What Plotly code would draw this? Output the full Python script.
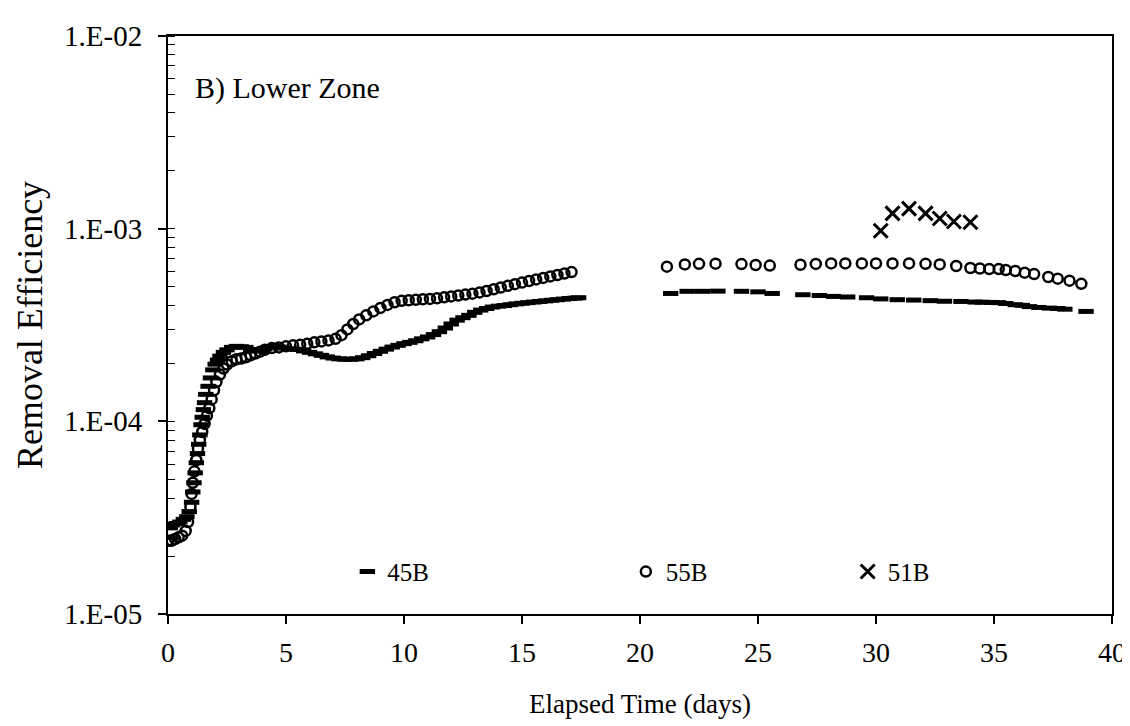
import plotly.graph_objects as go

# ---------------- data ----------------
t_45B = [0.0, 0.1, 0.2, 0.35, 0.5, 0.65, 0.8, 0.9, 1.0, 1.05, 1.1, 1.15, 1.2, 1.25, 1.3,
         1.35, 1.4, 1.45, 1.5, 1.55, 1.6, 1.7, 1.8, 1.9, 2.0, 2.1, 2.2, 2.35, 2.5, 2.7,
         2.9, 3.1, 3.3, 3.5, 3.7, 3.9, 4.1, 4.3, 4.5, 4.7, 4.9, 5.1, 5.3, 5.5, 5.75,
         6.0, 6.25, 6.5, 6.75, 7.0, 7.25, 7.5, 7.75, 8.0, 8.25, 8.5, 8.75, 9.0, 9.25,
         9.5, 9.75, 10.0, 10.25, 10.5, 10.75, 11.0, 11.25, 11.5, 11.75, 12.0, 12.25,
         12.5, 12.75, 13.0, 13.25, 13.5, 13.75, 14.0, 14.25, 14.5, 14.75, 15.0, 15.25,
         15.5, 15.75, 16.0, 16.25, 16.5, 16.75, 17.0, 17.25, 17.4,
         21.3, 22.0, 22.65, 23.3, 24.3, 25.0, 25.6, 26.9, 27.6, 28.2, 28.8, 29.6, 30.2,
         30.9, 31.6, 32.3, 32.9, 33.6, 34.2, 34.5, 34.9, 35.2, 35.5, 35.9, 36.2, 36.5,
         36.9, 37.35, 37.7, 38.0, 38.9]
v_45B = [2.5e-5, 2.8e-5, 2.9e-5, 2.95e-5, 3.0e-5, 3.1e-5, 3.2e-5, 3.4e-5, 3.8e-5, 4.3e-5,
         4.8e-5, 5.4e-5, 6.1e-5, 6.8e-5, 7.6e-5, 8.5e-5, 9.6e-5, 1.05e-4, 1.15e-4, 1.25e-4,
         1.38e-4, 1.52e-4, 1.68e-4, 1.85e-4, 1.98e-4, 2.08e-4, 2.18e-4, 2.28e-4, 2.35e-4,
         2.42e-4, 2.45e-4, 2.44e-4, 2.42e-4, 2.36e-4, 2.32e-4, 2.32e-4, 2.38e-4, 2.44e-4,
         2.45e-4, 2.43e-4, 2.40e-4, 2.38e-4, 2.37e-4, 2.36e-4, 2.32e-4, 2.28e-4, 2.24e-4,
         2.20e-4, 2.16e-4, 2.13e-4, 2.11e-4, 2.10e-4, 2.10e-4, 2.11e-4, 2.14e-4, 2.19e-4,
         2.25e-4, 2.31e-4, 2.37e-4, 2.43e-4, 2.48e-4, 2.53e-4, 2.57e-4, 2.62e-4, 2.68e-4,
         2.74e-4, 2.82e-4, 2.92e-4, 3.05e-4, 3.20e-4, 3.35e-4, 3.45e-4, 3.55e-4, 3.68e-4,
         3.78e-4, 3.85e-4, 3.92e-4, 3.96e-4, 3.99e-4, 4.03e-4, 4.07e-4, 4.10e-4, 4.13e-4,
         4.16e-4, 4.19e-4, 4.22e-4, 4.25e-4, 4.28e-4, 4.31e-4, 4.34e-4, 4.36e-4, 4.38e-4,
         4.61e-4, 4.73e-4, 4.73e-4, 4.74e-4, 4.73e-4, 4.70e-4, 4.61e-4, 4.54e-4, 4.50e-4,
         4.45e-4, 4.42e-4, 4.38e-4, 4.32e-4, 4.28e-4, 4.26e-4, 4.23e-4, 4.20e-4, 4.19e-4,
         4.16e-4, 4.15e-4, 4.14e-4, 4.13e-4, 4.09e-4, 4.03e-4, 4.00e-4, 3.94e-4, 3.90e-4,
         3.87e-4, 3.85e-4, 3.82e-4, 3.72e-4]

t_55B = [0.0, 0.15, 0.3, 0.45, 0.6, 0.75, 0.85, 0.95, 1.0, 1.05, 1.12, 1.2, 1.27, 1.35,
         1.45, 1.55, 1.65, 1.75, 1.85, 1.95, 2.05, 2.2, 2.35, 2.5, 2.7, 2.9, 3.1, 3.3, 3.5,
         3.7, 3.9, 4.1, 4.4, 4.7, 5.0, 5.3, 5.6, 5.9, 6.2, 6.5, 6.8, 7.1, 7.35, 7.6, 7.85,
         8.1, 8.4, 8.7, 9.0, 9.3, 9.6, 9.9, 10.2, 10.5, 10.8, 11.1, 11.4, 11.7, 12.0, 12.3,
         12.6, 12.9, 13.2, 13.5, 13.8, 14.1, 14.4, 14.7, 15.0, 15.3, 15.6, 15.9, 16.2,
         16.5, 16.8, 17.1,
         21.14, 21.9, 22.5, 23.2, 24.3, 24.9, 25.5, 26.8, 27.45, 28.1, 28.7, 29.4, 30.0,
         30.7, 31.4, 32.1, 32.7, 33.4, 34.0, 34.4, 34.8, 35.2, 35.5, 35.9, 36.3, 36.7,
         37.3, 37.7, 38.2, 38.7]
v_55B = [2.4e-5, 2.4e-5, 2.45e-5, 2.5e-5, 2.55e-5, 2.7e-5, 3.0e-5, 3.6e-5, 4.2e-5, 4.8e-5,
         5.5e-5, 6.3e-5, 7.2e-5, 8.0e-5, 8.8e-5, 9.7e-5, 1.07e-4, 1.17e-4, 1.30e-4, 1.45e-4,
         1.60e-4, 1.75e-4, 1.88e-4, 1.97e-4, 2.05e-4, 2.10e-4, 2.12e-4, 2.15e-4, 2.20e-4,
         2.25e-4, 2.30e-4, 2.35e-4, 2.40e-4, 2.42e-4, 2.45e-4, 2.48e-4, 2.50e-4, 2.53e-4,
         2.57e-4, 2.60e-4, 2.63e-4, 2.68e-4, 2.80e-4, 3.00e-4, 3.20e-4, 3.38e-4, 3.55e-4,
         3.72e-4, 3.88e-4, 4.02e-4, 4.15e-4, 4.22e-4, 4.25e-4, 4.27e-4, 4.30e-4, 4.32e-4,
         4.35e-4, 4.40e-4, 4.45e-4, 4.50e-4, 4.55e-4, 4.60e-4, 4.67e-4, 4.75e-4, 4.85e-4,
         4.95e-4, 5.05e-4, 5.15e-4, 5.25e-4, 5.35e-4, 5.45e-4, 5.55e-4, 5.65e-4, 5.75e-4,
         5.85e-4, 5.95e-4,
         6.35e-4, 6.52e-4, 6.57e-4, 6.58e-4, 6.55e-4, 6.48e-4, 6.43e-4, 6.50e-4, 6.56e-4,
         6.60e-4, 6.60e-4, 6.60e-4, 6.60e-4, 6.60e-4, 6.60e-4, 6.57e-4, 6.52e-4, 6.40e-4,
         6.25e-4, 6.21e-4, 6.17e-4, 6.17e-4, 6.10e-4, 6.03e-4, 5.91e-4, 5.81e-4, 5.61e-4,
         5.50e-4, 5.37e-4, 5.17e-4]

t_51B = [30.2, 30.7, 31.4, 32.1, 32.7, 33.3, 34.0]
v_51B = [9.75e-4, 1.20e-3, 1.27e-3, 1.20e-3, 1.13e-3, 1.09e-3, 1.08e-3]

x_ticks = [0, 5, 10, 15, 20, 25, 30, 35, 40]
y_tickvals = [1e-5, 1e-4, 1e-3, 1e-2]
y_ticktext = ["1.E-05", "1.E-04", "1.E-03", "1.E-02"]

FONT = "Liberation Serif"

fig = go.Figure()
fig.add_trace(go.Scatter(
    x=t_45B, y=v_45B, mode="markers", name="45B", legend="legend",
    marker=dict(symbol="line-ew", size=11, color="black",
                line=dict(color="black", width=5))))
fig.add_trace(go.Scatter(
    x=t_55B, y=v_55B, mode="markers", name="55B", legend="legend2",
    marker=dict(symbol="circle-open", size=10, color="black",
                line=dict(color="black", width=2.5))))
fig.add_trace(go.Scatter(
    x=t_51B, y=v_51B, mode="markers", name="51B", legend="legend3",
    marker=dict(symbol="x-thin", size=14, color="black",
                line=dict(color="black", width=3))))

leg_common = dict(orientation="h", yanchor="middle", xanchor="left", y=0.073,
                  bgcolor="rgba(0,0,0,0)", font=dict(family=FONT, size=25, color="black"),
                  itemwidth=30)

fig.update_layout(
    width=1130, height=726,
    margin=dict(l=160, r=22, t=28, b=120),
    paper_bgcolor="white", plot_bgcolor="white",
    font=dict(family=FONT, color="black"),
    showlegend=True,
    legend=dict(leg_common, x=0.19),
    legend2=dict(leg_common, x=0.485),
    legend3=dict(leg_common, x=0.72),
    xaxis=dict(
        range=[0, 40], tickvals=x_ticks, ticks="outside", ticklen=8, tickwidth=1.5,
        tickcolor="black", showline=True, linecolor="black", linewidth=2, mirror=True,
        showgrid=False, zeroline=False, tickfont=dict(family=FONT, size=28),
        ticklabelstandoff=4,
        title=dict(text="Elapsed Time (days)", font=dict(family=FONT, size=27), standoff=28),
    ),
    yaxis=dict(
        type="log", range=[-5, -2], tickvals=y_tickvals, ticktext=y_ticktext,
        ticks="outside", ticklen=8, tickwidth=1.5, tickcolor="black",
        minor=dict(ticks="inside", ticklen=7, tickwidth=1.2, tickcolor="black", dtick="D1",
                   showgrid=False),
        showline=True, linecolor="black", linewidth=2, mirror=True,
        showgrid=False, zeroline=False, tickfont=dict(family=FONT, size=29),
        ticklabelstandoff=10,
        title=dict(text="Removal Efficiency", font=dict(family=FONT, size=36), standoff=10),
    ),
    annotations=[dict(
        text="B) Lower Zone", xref="paper", yref="paper", x=0.026, y=0.91,
        xanchor="left", yanchor="middle", showarrow=False,
        font=dict(family=FONT, size=30, color="black"))],
)

fig.write_html("out.html")
